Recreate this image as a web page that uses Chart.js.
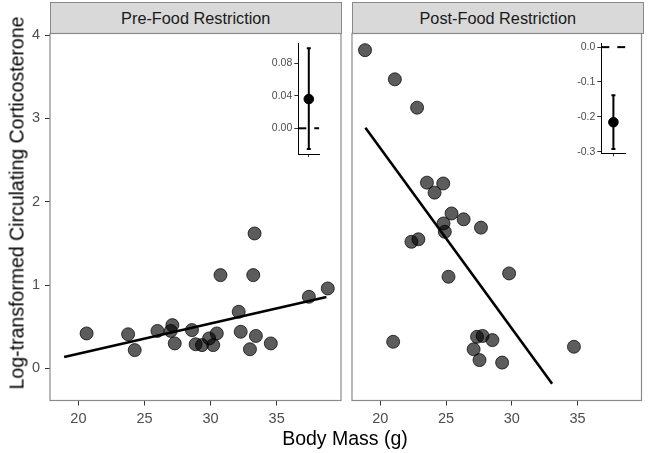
<!DOCTYPE html>
<html>
<head>
<meta charset="utf-8">
<script src="https://cdn.jsdelivr.net/npm/chart.js@4/dist/chart.umd.min.js"></script>
<style>
  html, body { margin: 0; padding: 0; background: #fff; }
  #wrap { position: relative; width: 649px; height: 453px; overflow: hidden; font-family: "Liberation Sans", Arial, sans-serif; }
  canvas.layer { position: absolute; left: 0; top: 0; }
  .strip { position: absolute; box-sizing: border-box; background: #d9d9d9; border: 1px solid #8a8a8a;
           color: #1a1a1a; font-size: 16.3px; display: flex; align-items: center; justify-content: center; }
  .title { position: absolute; color: #000; font-size: 19.5px; white-space: nowrap; }
</style>
</head>
<body>
<div id="wrap">
  <div class="strip" style="left:50px; top:2px; width:291.5px; height:32px;">Pre-Food Restriction</div>
  <div class="strip" style="left:352px; top:2px; width:291.5px; height:32px;">Post-Food Restriction</div>
  <canvas class="layer" id="cPre" width="649" height="453"></canvas>
  <canvas class="layer" id="cPost" width="649" height="453"></canvas>
  <canvas class="layer" id="iPre" width="649" height="453"></canvas>
  <canvas class="layer" id="iPost" width="649" height="453"></canvas>
  <div class="title" id="xTitle" style="left:345px; top:438px; transform: translate(-50%,-50%);">Body Mass (g)</div>
  <div class="title" id="yTitle" style="left:17px; top:203px; transform: translate(-50%,-50%) rotate(-90deg);">Log-transformed Circulating Corticosterone</div>
</div>
<script>
// ---------- data ----------
const panelNames = ["Pre-Food Restriction", "Post-Food Restriction"];
const xTicks = [20, 25, 30, 35];
const yTicks = [0, 1, 2, 3, 4];

const preMass = [20.62, 23.76, 24.26, 25.98, 27.11, 26.99, 27.29, 28.59, 28.87, 29.35, 29.89, 30.2, 30.47, 30.75, 32.13, 32.28, 32.98, 33.23, 33.33, 33.43, 34.56, 37.44, 38.87];
const preCort = [0.42, 0.41, 0.22, 0.45, 0.52, 0.45, 0.30, 0.46, 0.29, 0.28, 0.36, 0.28, 0.42, 1.12, 0.68, 0.44, 0.23, 1.12, 1.62, 0.39, 0.30, 0.86, 0.96];

const postMass = [18.84, 21.11, 22.8, 23.55, 24.79, 24.13, 25.42, 26.34, 24.81, 24.91, 27.66, 22.9, 22.37, 25.19, 29.8, 20.98, 27.36, 27.78, 28.53, 27.1, 27.55, 29.27, 34.73];
const postCort = [3.82, 3.47, 3.13, 2.23, 2.22, 2.11, 1.86, 1.79, 1.74, 1.64, 1.69, 1.55, 1.52, 1.10, 1.14, 0.32, 0.38, 0.39, 0.34, 0.23, 0.10, 0.07, 0.26];

// fitted line end points
const preFitX = [18.92, 38.77];
const preFitY = [0.136, 0.856];
const postFitX = [18.87, 33.07];
const postFitY = [2.89, -0.185];

// inset slope estimates: [estimate, lower, upper]
const preSlope = [0.036, -0.0255, 0.0985];
const postSlope = [-0.2155, -0.292, -0.138];
const preInsetTicks = [0, 0.04, 0.08];
const preInsetLabels = ["0.00", "0.04", "0.08"];
const postInsetTicks = [-0.3, -0.2, -0.1, 0];
const postInsetLabels = ["-0.3", "-0.2", "-0.1", "0.0"];

// ---------- helpers ----------
const W = 649, H = 453;
const FONT = "'Liberation Sans', Arial, sans-serif";
const zip = (xs, ys) => xs.map((x, i) => ({ x: x, y: ys[i] }));

const borderPlugin = {
  id: 'panelBorder',
  afterDraw(chart, args, opts) {
    if (!opts || !opts.show) return;
    const a = chart.chartArea, ctx = chart.ctx;
    ctx.save();
    ctx.strokeStyle = opts.color || '#8a8a8a';
    ctx.lineWidth = opts.width || 1.2;
    ctx.strokeRect(a.left, a.top, a.right - a.left, a.bottom - a.top);
    ctx.restore();
  }
};

function mainPanel(id, rect, mass, cort, fx, fy, showY) {
  const yW = showY ? 50 : 0;
  const xH = 30;
  return new Chart(document.getElementById(id), {
    type: 'scatter',
    data: {
      datasets: [
        { data: zip(fx, fy), showLine: true, borderColor: '#000', borderWidth: 2.6,
          pointRadius: 0, order: 1 },
        { data: zip(mass, cort), pointRadius: 6.5, backgroundColor: 'rgba(0,0,0,0.64)',
          borderColor: 'rgba(0,0,0,0.72)', borderWidth: 1, order: 2 }
      ]
    },
    options: {
      responsive: false, animation: false, devicePixelRatio: 1,
      layout: { padding: { left: rect.L - yW, right: W - rect.R, top: rect.T, bottom: H - rect.B - xH } },
      plugins: { legend: { display: false }, tooltip: { enabled: false }, panelBorder: { show: true } },
      scales: {
        x: {
          type: 'linear', min: 17.85, max: 39.87,
          afterBuildTicks: s => { s.ticks = xTicks.map(v => ({ value: v })); },
          afterFit: s => { s.height = xH; },
          ticks: { color: '#4d4d4d', font: { family: FONT, size: 14.5 }, padding: 5, maxRotation: 0,
                   callback: v => String(v) },
          grid: { display: true, drawOnChartArea: false, drawTicks: true, tickLength: 5, tickColor: '#333', tickWidth: 1 },
          border: { display: false }
        },
        y: {
          type: 'linear', min: -0.385, max: 4.02, display: showY,
          afterBuildTicks: s => { s.ticks = yTicks.map(v => ({ value: v })); },
          afterFit: s => { s.width = yW; },
          ticks: { color: '#4d4d4d', font: { family: FONT, size: 14.5 }, padding: 5, callback: v => String(v) },
          grid: { display: true, drawOnChartArea: false, drawTicks: true, tickLength: 5, tickColor: '#333', tickWidth: 1 },
          border: { display: false }
        }
      }
    },
    plugins: [borderPlugin]
  });
}

function insetPanel(id, rect, est, yMin, yMax, ticks, labels) {
  const yW = 40, xH = 10;
  return new Chart(document.getElementById(id), {
    type: 'scatter',
    data: {
      datasets: [
        { data: [{ x: 0, y: 0 }, { x: 2, y: 0 }], showLine: true, borderColor: '#000', borderWidth: 2,
          borderDash: [8, 8], pointRadius: 0, order: 3 },
        { data: [{ x: 1, y: est[1] }, { x: 1, y: est[2] }], showLine: true, borderColor: '#000', borderWidth: 2,
          pointStyle: 'line', pointRadius: 2, pointBorderWidth: 2, pointBorderColor: '#000', order: 2 },
        { data: [{ x: 1, y: est[0] }], pointRadius: 4.8, backgroundColor: '#000', borderColor: '#000', order: 1 }
      ]
    },
    options: {
      responsive: false, animation: false, devicePixelRatio: 1,
      layout: { padding: { left: rect.L - yW, right: W - rect.R, top: rect.T, bottom: H - rect.B - xH } },
      plugins: { legend: { display: false }, tooltip: { enabled: false } },
      scales: {
        x: {
          type: 'linear', min: 0, max: 2,
          afterBuildTicks: s => { s.ticks = [{ value: 1 }]; },
          afterFit: s => { s.height = xH; },
          ticks: { callback: () => '', padding: 0 },
          grid: { display: true, drawOnChartArea: false, drawTicks: true, tickLength: 3, tickColor: '#333', tickWidth: 1 },
          border: { display: true, color: '#000', width: 1 }
        },
        y: {
          type: 'linear', min: yMin, max: yMax,
          afterBuildTicks: s => { s.ticks = ticks.map(v => ({ value: v })); },
          afterFit: s => { s.width = yW; },
          ticks: { color: '#4d4d4d', font: { family: FONT, size: 10.5 }, padding: 2,
                   callback: (v) => { const i = ticks.findIndex(t => Math.abs(t - v) < 1e-9); return i >= 0 ? labels[i] : ''; } },
          grid: { display: true, drawOnChartArea: false, drawTicks: true, tickLength: 4, tickColor: '#333', tickWidth: 1 },
          border: { display: true, color: '#000', width: 1 }
        }
      }
    }
  });
}

mainPanel('cPre', { L: 50, R: 341, T: 33.5, B: 400.5 }, preMass, preCort, preFitX, preFitY, true);
mainPanel('cPost', { L: 352, R: 643, T: 33.5, B: 400.5 }, postMass, postCort, postFitX, postFitY, false);
insetPanel('iPre', { L: 298.3, R: 319.3, T: 43.3, B: 154 }, preSlope, -0.0316, 0.1046, preInsetTicks, preInsetLabels);
insetPanel('iPost', { L: 601.3, R: 625.5, T: 43.3, B: 153.3 }, postSlope, -0.3046, 0.011, postInsetTicks, postInsetLabels);
</script>
</body>
</html>
